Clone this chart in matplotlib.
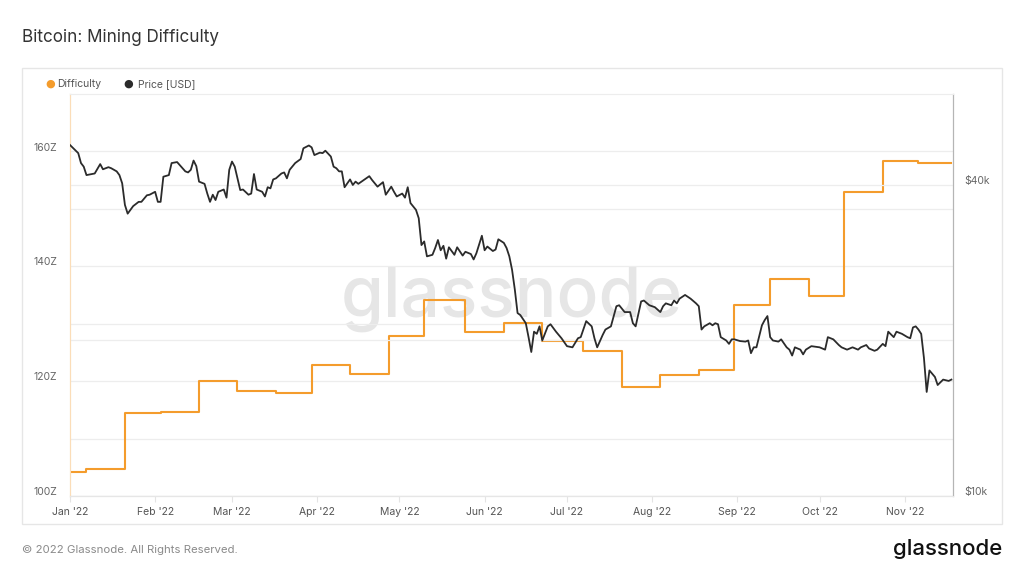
import matplotlib
matplotlib.use("Agg")
import matplotlib.pyplot as plt
import matplotlib.dates as mdates
import matplotlib.transforms as mtransforms
from matplotlib.patches import Rectangle
from matplotlib.ticker import FixedLocator, FuncFormatter
import pandas as pd

plt.rcParams['font.family'] = ['Inter', 'DejaVu Sans']

# Difficulty adjustments (value in Z, held until the next date)
diff_dates = ["2022-01-01", "2022-01-07", "2022-01-21", "2022-02-03", "2022-02-17",
              "2022-03-03", "2022-03-17", "2022-03-30", "2022-04-13", "2022-04-27",
              "2022-05-10", "2022-05-25", "2022-06-08", "2022-06-22", "2022-07-07",
              "2022-07-21", "2022-08-04", "2022-08-18", "2022-08-31", "2022-09-13",
              "2022-09-27", "2022-10-10", "2022-10-24", "2022-11-06", "2022-11-18"]
diff_values = [104.2, 104.7, 114.4, 114.6, 120.1, 118.3, 117.9, 122.8, 121.2, 127.9,
               134.2, 128.5, 130.1, 127.0, 125.3, 118.9, 121.0, 121.9, 133.2, 137.7,
               134.8, 153.0, 158.3, 158.0, 158.0]

# BTC price, days since 2022-01-01 and USD (thousands)
price_day = [0, 3, 4, 5, 6, 8, 9, 11, 12, 14, 15, 17, 18, 19, 20, 21, 23, 25, 26, 28,
             29, 31, 32, 33, 34, 36, 37, 39, 42, 43, 44, 45, 46, 47, 49, 50, 51, 52, 53, 54,
             56, 57, 58, 59, 60, 62, 63, 65, 66, 67, 68, 70, 71, 72, 73, 74, 75, 77, 78, 79,
             80, 82, 84, 85, 87, 88, 89, 91, 92, 93, 95, 96, 97, 98, 99, 100, 102, 103, 104, 105,
             107, 109, 110, 112, 114, 115, 117, 118, 119, 121, 122, 123, 124, 126, 127, 128, 129, 130, 132, 133,
             134, 135, 136, 137, 138, 140, 141, 143, 144, 146, 147, 148, 150, 151, 152, 154, 155, 156, 158, 159,
             160, 161, 162, 163, 164, 166, 167, 168, 169, 170, 171, 172, 174, 175, 177, 179, 181, 183, 185, 186,
             188, 190, 191, 192, 194, 195, 197, 199, 200, 202, 204, 205, 206, 208, 209, 211, 213, 215, 216, 217,
             219, 220, 221, 222, 223, 224, 226, 228, 229, 230, 231, 233, 234, 235, 236, 237, 239, 240, 241, 242,
             244, 246, 247, 248, 249, 250, 252, 253, 254, 255, 256, 258, 259, 261, 262, 263, 264, 266, 267, 268,
             270, 273, 275, 276, 278, 280, 281, 283, 285, 287, 288, 290, 291, 293, 294, 296, 297, 298, 300, 301,
             303, 305, 306, 307, 308, 309, 310, 311, 312, 313, 315, 316, 317, 318, 320, 321]
price_k = [47.8, 46.1, 44.1, 43.4, 41.8, 42.0, 42.1, 43.9, 42.9, 43.3, 43.1, 42.5, 41.8, 40.3, 36.6, 35.2, 36.4, 37.1, 37.1, 38.2,
           38.3, 38.8, 37.1, 37.1, 41.5, 41.8, 44.1, 44.3, 42.5, 42.3, 42.8, 44.6, 43.5, 40.6, 40.2, 38.5, 37.1, 38.3, 37.4, 38.8,
           39.2, 37.8, 42.8, 44.4, 43.4, 39.1, 39.2, 38.3, 38.5, 42.0, 39.2, 38.8, 38.0, 39.6, 39.4, 41.0, 41.2, 42.1, 42.3, 41.2,
           42.8, 44.1, 44.9, 47.1, 47.7, 47.3, 45.7, 46.2, 46.1, 46.6, 45.4, 43.4, 43.1, 42.5, 42.5, 39.6, 41.0, 40.0, 40.6, 40.2,
           40.9, 41.6, 40.9, 39.7, 40.5, 38.3, 39.7, 38.8, 38.0, 38.5, 37.8, 39.6, 36.9, 35.8, 34.5, 30.6, 31.1, 29.1, 29.3, 30.2,
           31.3, 29.9, 30.5, 28.8, 30.3, 29.3, 30.3, 29.2, 29.7, 29.4, 28.7, 29.5, 31.9, 29.9, 30.4, 29.8, 30.0, 31.4, 30.9, 30.2,
           29.1, 27.4, 25.1, 22.6, 22.4, 21.6, 20.3, 19.0, 20.8, 20.6, 21.3, 20.0, 21.3, 21.5, 20.8, 20.2, 19.5, 19.4, 20.2, 20.3,
           21.8, 21.3, 20.2, 19.4, 20.5, 21.0, 21.3, 23.3, 23.4, 22.7, 22.7, 21.6, 21.3, 23.8, 23.9, 23.4, 23.2, 22.7, 23.3, 23.6,
           23.4, 23.9, 23.6, 24.1, 24.3, 24.5, 24.1, 23.6, 23.3, 21.0, 21.3, 21.6, 21.4, 21.6, 21.5, 20.3, 20.0, 19.7, 20.1, 20.1,
           19.95, 19.9, 20.0, 18.9, 19.4, 19.4, 21.4, 21.9, 22.3, 20.3, 20.0, 19.9, 20.1, 19.4, 19.2, 18.7, 19.4, 19.2, 18.8, 19.2,
           19.5, 19.4, 19.2, 20.3, 20.1, 19.6, 19.4, 19.2, 19.4, 19.2, 19.4, 19.6, 19.3, 19.1, 19.2, 19.7, 19.5, 20.8, 20.3, 20.8,
           20.6, 20.3, 20.2, 21.2, 21.3, 21.0, 20.6, 18.5, 15.9, 17.5, 17.0, 16.4, 16.6, 16.8, 16.7, 16.8]

diff_ticks = [100, 120, 140, 160]
diff_minor = [110, 130, 150]
price_ticks = [10000, 20000, 40000]
price_labels = ["$10k", "", "$40k"]

ORANGE = "#F49C2C"
BLACK = "#2B2B2B"
GRID = "#EDEDED"
TEXT = "#666666"

start = pd.Timestamp("2022-01-01")
d_dates = pd.to_datetime(diff_dates)
p_dates = start + pd.to_timedelta(price_day, unit="D")
p_usd = [v * 1000 for v in price_k]

fig = plt.figure(figsize=(10.24, 5.76), dpi=100, facecolor="white")

# card behind the chart
fig.patches.append(Rectangle((22 / 1024, 1 - 524 / 576), 980 / 1024, 456 / 576,
                             transform=fig.transFigure, facecolor="white",
                             edgecolor="#E6E6E6", linewidth=1, zorder=-10))

ax = fig.add_axes([70 / 1024, 1 - 496 / 576, 883 / 1024, 402 / 576])
ax.set_facecolor("none")
ax2 = ax.twinx()

ax.plot(d_dates, diff_values, drawstyle="steps-post", color=ORANGE, linewidth=1.5, zorder=3)
ax2.plot(p_dates, p_usd, color=BLACK, linewidth=1.3, zorder=3)

ax.set_ylim(100, 170)
ax2.set_yscale("log")
ax2.set_ylim(10000, 60000)
ax.set_xlim(start, pd.Timestamp("2022-11-18 14:00"))

# left axis: labels every 20Z, grid every 10Z
ax.yaxis.set_major_locator(FixedLocator(diff_ticks))
ax.yaxis.set_minor_locator(FixedLocator(diff_minor))
ax.yaxis.set_major_formatter(FuncFormatter(lambda v, p: f"{v:.0f}Z"))
ax.grid(True, which="both", axis="y", color=GRID, linewidth=0.9)
ax.tick_params(axis="y", which="both", length=0, pad=9, labelsize=7.5, labelcolor=TEXT)

ax2.yaxis.set_major_locator(FixedLocator(price_ticks))
ax2.yaxis.set_minor_locator(FixedLocator([]))
ax2.set_yticklabels(price_labels)
ax2.grid(True, axis="y", color=GRID, linewidth=0.9)
ax2.tick_params(axis="y", which="both", length=0, pad=8.5, labelsize=7.5, labelcolor=TEXT)

ax.xaxis.set_major_locator(mdates.MonthLocator())
ax.xaxis.set_major_formatter(mdates.DateFormatter("%b '%y"))
ax.tick_params(axis="x", length=4, color="#E4E4E4", pad=4, labelsize=7.5, labelcolor="#555555")

# value labels sit just above their grid line
lift = mtransforms.ScaledTranslation(0, 3.5 / 72, fig.dpi_scale_trans)
for lbl in ax.get_yticklabels() + ax2.get_yticklabels():
    lbl.set_transform(lbl.get_transform() + lift)

for a in (ax, ax2):
    a.spines["top"].set_color("#EDEDED")
    a.spines["bottom"].set_color("#E6E6E6")
    a.spines["left"].set_color("#FBDDB8")
    a.spines["right"].set_color("#B5B5B5")

# watermark
ax.text(0.5, 0.49, "glassnode", transform=ax.transAxes, ha="center", va="center",
        fontsize=50, color="#E6E6E6", fontweight="medium", zorder=1)

# legend row
fig.text(50 / 1024, 1 - 84 / 576, "●", color=ORANGE, fontsize=8, ha="center", va="center",
         family=["DejaVu Sans"])
fig.text(57 / 1024, 1 - 84 / 576, "Difficulty", color="#555555", fontsize=7.5, va="center")
fig.text(128 / 1024, 1 - 84 / 576, "●", color=BLACK, fontsize=8, ha="center", va="center",
         family=["DejaVu Sans"])
fig.text(138 / 1024, 1 - 84 / 576, "Price [USD]", color="#555555", fontsize=7.5, va="center")

fig.text(22 / 1024, 1 - 38 / 576, "Bitcoin: Mining Difficulty", fontsize=12.3, color="#333333",
         va="center")
fig.text(22 / 1024, 1 - 550 / 576, "© 2022 Glassnode. All Rights Reserved.", fontsize=8.2,
         color="#8A8A8A", va="center")
fig.text(1002 / 1024, 1 - 549 / 576, "glassnode", fontsize=16, color="#111111", ha="right",
         va="center", fontweight="medium")

fig.savefig("out.png", dpi=100, facecolor="white")
